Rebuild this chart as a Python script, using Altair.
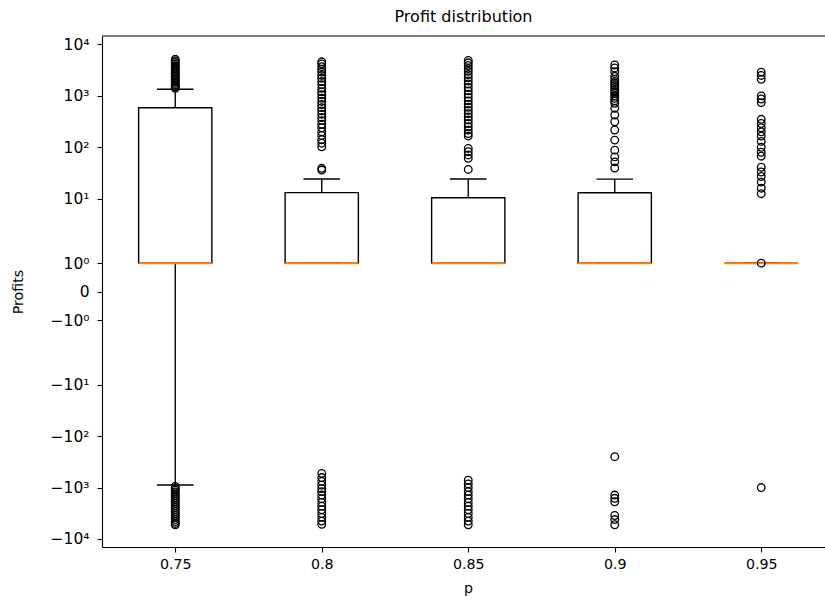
import math
import altair as alt
import pandas as pd

# ---- data ----
p_labels = ["0.75", "0.8", "0.85", "0.9", "0.95"]
q1 = [1, 1, 1, 1, 1]
median = [1, 1, 1, 1, 1]
q3 = [589, 13.1, 10.4, 13.0, 1]
whisker_lo = [-890, 1, 1, 1, 1]
whisker_hi = [1342, 24.1, 24.1, 24.0, 1]

out_075 = [1400, 1480, 1560, 1650, 1750, 1860, 1980, 2100, 2250, 2400, 2560,
           2740, 2930, 3130, 3350, 3600, 3850, 4150, 4450, 4800, 5150,
           -950, -1030, -1120, -1220, -1330, -1450, -1580, -1720, -1880, -2050,
           -2240, -2450, -2680, -2930, -3200, -3500, -3830, -4200, -4600, -5000, -5300]
out_080 = [4600, 4200, 3700, 3300, 2900, 2500, 2200, 1900, 1650, 1400, 1200,
           1050, 900, 780, 680, 590, 510, 440, 380, 330, 280, 240, 200, 170,
           140, 120, 102, 39, 36,
           -530, -640, -760, -900, -1050, -1200, -1400, -1650, -1950, -2300,
           -2700, -3200, -3800, -4500, -5200]
out_085 = [4900, 4400, 3900, 3400, 3000, 2600, 2250, 1950, 1700, 1450, 1250,
           1080, 930, 800, 690, 600, 520, 450, 390, 340, 290, 250, 215, 185,
           165, 95, 82, 71, 61, 37,
           -720, -850, -1000, -1200, -1400, -1650, -1950, -2300, -2700, -3200,
           -3800, -4500, -5300]
out_090 = [3990, 3500, 2950, 2400, 2100, 1900, 1755, 1600, 1450, 1300, 1200,
           1120, 1000, 900, 800, 716, 573, 425, 314, 217, 138, 88, 65, 52, 39.5,
           -251, -1400, -1620, -1890, -3500, -4200, -5300]
out_095 = [2900, 2500, 2100, 1000, 870, 740, 350, 290, 240, 200, 165, 130, 100,
           80, 67, 41, 33, 27, 21, 16, 12.5, 1.0, -1000]
outliers = [out_075, out_080, out_085, out_090, out_095]

y_tick_values = [10000, 1000, 100, 10, 1, 0, -1, -10, -100, -1000, -10000]
y_tick_labels = ["10⁴", "10³", "10²", "10¹", "10⁰", "0", "−10⁰", "−10¹",
                 "−10²", "−10³", "−10⁴"]

# symlog (linthresh=2, linscale=1, base 10) in decade units
LINTHRESH = 2.0
LINSCALE_ADJ = 1.0 / (1.0 - 1.0 / 10.0)


def symlog(v):
    a = abs(v)
    s = -1 if v < 0 else 1
    if a <= LINTHRESH:
        return s * a * LINSCALE_ADJ / LINTHRESH
    return s * (LINSCALE_ADJ + math.log10(a / LINTHRESH))


def symlog_expr(field):
    a = f"abs(datum['{field}'])"
    return (f"(datum['{field}'] < 0 ? -1 : 1) * ({a} <= {LINTHRESH} ? "
            f"{a} * {LINSCALE_ADJ / LINTHRESH} : {LINSCALE_ADJ} + log({a} / {LINTHRESH}) / LN10)")


box_df = pd.DataFrame({
    "pos": list(range(1, len(p_labels) + 1)),
    "q1": q1, "med": median, "q3": q3, "lo": whisker_lo, "hi": whisker_hi,
})
fl_rows = []
for i, vals in enumerate(outliers):
    for v in vals:
        fl_rows.append({"pos": i + 1, "v": v})
fl_df = pd.DataFrame(fl_rows)

W, H = 723, 511
xs = alt.Scale(domain=[0.5, 0.5 + W / 146.5], nice=False, zero=False)
ys = alt.Scale(domain=[-4.967, 4.975], nice=False, zero=False)

y_pos = [symlog(v) for v in y_tick_values]
y_label_expr = " : ".join(
    f"abs(datum.value - ({g:.5f})) < 0.001 ? '{lab}'" for g, lab in zip(y_pos, y_tick_labels)
) + " : ''"
x_label_expr = "[" + ",".join(f"'{l}'" for l in p_labels) + "][round(datum.value) - 1]"

xaxis = alt.Axis(values=list(range(1, len(p_labels) + 1)), labelExpr=x_label_expr,
                 title="p", titleX=366, titleY=45, titleBaseline="alphabetic",
                 titleAlign="center", labelBaseline="top", labelPadding=5,
                 labelFontSize=14.2)
yaxis = alt.Axis(values=y_pos, labelExpr=y_label_expr, title="Profits",
                 titleAngle=270, titleX=-80, titleY=H / 2, titleAlign="center",
                 titleBaseline="alphabetic", labelPadding=8, labelFontSize=15.5)

box_base = alt.Chart(box_df).transform_calculate(
    gq1=symlog_expr("q1"), gmed=symlog_expr("med"), gq3=symlog_expr("q3"),
    glo=symlog_expr("lo"), ghi=symlog_expr("hi"),
    xl="datum.pos - 0.25", xr="datum.pos + 0.25",
    cl="datum.pos - 0.125", cr="datum.pos + 0.125",
)

boxes = box_base.mark_rect(fill="white", stroke="black", strokeWidth=1.4).encode(
    x=alt.X("xl:Q", scale=xs, axis=xaxis), x2="xr:Q",
    y=alt.Y("gq1:Q", scale=ys, axis=yaxis), y2="gq3:Q",
)
whisk_up = box_base.mark_rule(color="black", strokeWidth=1.4).encode(
    x=alt.X("pos:Q", scale=xs), y=alt.Y("gq3:Q", scale=ys), y2="ghi:Q")
whisk_dn = box_base.mark_rule(color="black", strokeWidth=1.4).encode(
    x=alt.X("pos:Q", scale=xs), y=alt.Y("gq1:Q", scale=ys), y2="glo:Q")
cap_up = box_base.mark_rule(color="black", strokeWidth=1.4).encode(
    x=alt.X("cl:Q", scale=xs), x2="cr:Q", y=alt.Y("ghi:Q", scale=ys))
cap_dn = box_base.mark_rule(color="black", strokeWidth=1.4).encode(
    x=alt.X("cl:Q", scale=xs), x2="cr:Q", y=alt.Y("glo:Q", scale=ys))
medians = box_base.mark_rule(color="#ff7f0e", strokeWidth=2).encode(
    x=alt.X("xl:Q", scale=xs), x2="xr:Q", y=alt.Y("gmed:Q", scale=ys))

fliers = alt.Chart(fl_df).transform_calculate(g=symlog_expr("v")).mark_point(
    shape="circle", filled=False, color="black", size=58, strokeWidth=1.3, opacity=1
).encode(x=alt.X("pos:Q", scale=xs), y=alt.Y("g:Q", scale=ys))

top_spine = alt.Chart(pd.DataFrame({"a": [0]})).mark_rule(color="black", strokeWidth=1.1).encode(
    x=alt.value(0), x2=alt.value(W), y=alt.value(0))

chart = alt.layer(boxes, whisk_up, whisk_dn, cap_up, cap_dn, medians, fliers, top_spine).properties(
    width=W, height=H,
    title=alt.TitleParams("Profit distribution", font="DejaVu Sans", fontSize=16,
                          fontWeight="normal", color="black", anchor="middle",
                          baseline="alphabetic", offset=-3),
    autosize=alt.AutoSizeParams(type="none"),
    padding={"left": 102, "top": 36, "right": 0, "bottom": 58},
).configure_view(stroke=None).configure_axis(
    grid=False, domainColor="black", domainWidth=1.1, tickColor="black",
    tickWidth=1.1, tickSize=5, labelColor="black", labelFont="DejaVu Sans",
    titleFont="DejaVu Sans", titleFontSize=14.2,
    titleFontWeight="normal", titleColor="black", labelOverlap=False, labelFlush=False,
)

chart.save("out.html", embed_options={"renderer": "svg", "actions": False})
